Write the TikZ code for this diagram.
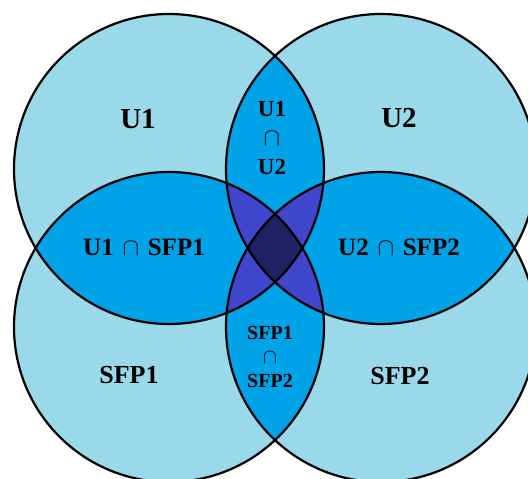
\documentclass[tikz,border=0pt]{standalone}
\usepackage{fontspec}
\setmainfont{Liberation Serif}

\definecolor{oneset}{RGB}{153,217,234}
\definecolor{twosets}{RGB}{0,162,232}
\definecolor{threesets}{RGB}{63,72,204}
\definecolor{foursets}{RGB}{31,33,100}

% a set of the diagram: disc of fixed radius round a named centre
\newcommand\vdisc[1]{(#1) circle[radius=155pt]}

\begin{document}
\begin{tikzpicture}[x=1pt,y=-1pt,
    outline/.style={draw=black,line width=2.2pt},
    biglabel/.style={font=\bfseries\fontsize{29}{34}\selectfont},
    sfplabel/.style={font=\bfseries\fontsize{26}{30}\selectfont},
    lenslabel/.style={font=\bfseries\fontsize{25}{29}\selectfont},
    stacklabel/.style={font=\bfseries\fontsize{23}{29}\selectfont,align=center},
    smallstack/.style={font=\bfseries\fontsize{20}{24}\selectfont,align=center}]
\useasboundingbox (0,0) rectangle (528,479);

\coordinate (cU1) at (169,169);
\coordinate (cU2) at (381,169);
\coordinate (cS1) at (169,327);
\coordinate (cS2) at (381,327);

\begin{scope}
  \clip (0,0) rectangle (528,479);
  % every set
  \foreach \c in {cU1,cU2,cS1,cS2}
    {\fill[oneset] \vdisc{\c};}
  % every pair of sets
  \foreach \a/\b in {cU1/cU2,cU1/cS1,cU1/cS2,cU2/cS1,cU2/cS2,cS1/cS2}
    {\begin{scope}
      \clip \vdisc{\a};
      \fill[twosets] \vdisc{\b};
    \end{scope}}
  % every triple of sets
  \foreach \a/\b/\d in {cU1/cU2/cS1,cU1/cU2/cS2,cU1/cS1/cS2,cU2/cS1/cS2}
    {\begin{scope}
      \clip \vdisc{\a};
      \clip \vdisc{\b};
      \fill[threesets] \vdisc{\d};
    \end{scope}}
  % all four sets
  \begin{scope}
    \clip \vdisc{cU1};
    \clip \vdisc{cU2};
    \clip \vdisc{cS1};
    \fill[foursets] \vdisc{cS2};
  \end{scope}
  % outlines
  \foreach \c in {cU1,cU2,cS1,cS2}
    {\draw[outline] \vdisc{\c};}
\end{scope}

% labels
\node[biglabel] (tU1) at (138,119) {U1};
\node[biglabel] (tU2) at (399,118) {U2};
\node[sfplabel] (tS1) at (129,375) {SFP1};
\node[sfplabel] (tS2) at (400,376) {SFP2};
\node[lenslabel] (tU1S1) at (144,247) {U1\hskip0.35em$\cap$\hskip0.35em SFP1};
\node[lenslabel] (tU2S2) at (399,247) {U2\hskip0.35em$\cap$\hskip0.35em SFP2};
\node[stacklabel] (tU1U2) at (272,138) {U1\\$\cap$\\U2};
\node[smallstack] (tS1S2) at (270,357) {SFP1\\$\cap$\\SFP2};
\end{tikzpicture}
\end{document}
